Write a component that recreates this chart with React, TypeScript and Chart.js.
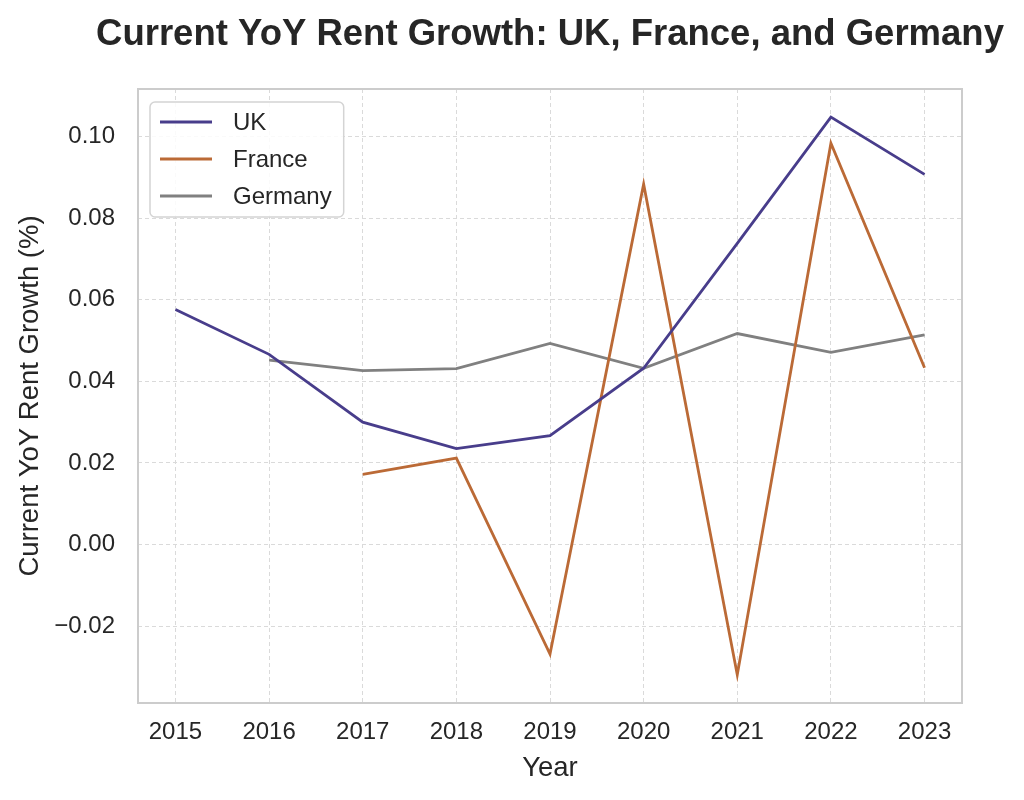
import React, { useEffect, useRef } from "react";
import { Chart, registerables } from "chart.js";

Chart.register(...registerables);

const FONT = "'Liberation Sans', Arial, Helvetica, sans-serif";
const TEXT = "#262626";

const years = [2015, 2016, 2017, 2018, 2019, 2020, 2021, 2022, 2023];
const ukValues = [0.0576, 0.0466, 0.03, 0.0235, 0.0267, 0.0432, 0.0738, 0.1047, 0.0907];
const franceValues = [null, null, 0.0172, 0.0212, -0.0268, 0.0883, -0.0319, 0.0983, 0.0433];
const germanyValues = [null, 0.0452, 0.0426, 0.0431, 0.0493, 0.0432, 0.0517, 0.0471, 0.0514];

const seriesNames = ["UK", "France", "Germany"];
const seriesColors = ["#483d8b", "#bb6a36", "#808080"];
const seriesValues = [ukValues, franceValues, germanyValues];

const yTicks = [-0.02, 0, 0.02, 0.04, 0.06, 0.08, 0.1];
const xMin = 2014.6;
const xMax = 2023.4;
const yMin = -0.0388;
const yMax = 0.1116;

const chartTitle = "Current YoY Rent Growth: UK, France, and Germany";
const xTitle = "Year";
const yTitle = "Current YoY Rent Growth (%)";

const frameAndLegend = {
  id: "frameAndLegend",
  afterDraw(chart: any) {
    const { ctx, chartArea: a } = chart;
    ctx.save();
    // title, centred over the plot area
    ctx.fillStyle = TEXT;
    ctx.font = `bold 36.5px ${FONT}`;
    ctx.textAlign = "center";
    ctx.textBaseline = "alphabetic";
    ctx.fillText(chartTitle, (a.left + a.right) / 2, a.top - 44.5);

    // plot frame
    ctx.strokeStyle = "#cccccc";
    ctx.lineWidth = 2;
    ctx.strokeRect(a.left, a.top, a.right - a.left, a.bottom - a.top);

    // legend
    ctx.font = `24px ${FONT}`;
    const items = chart.data.datasets;
    const textW = Math.max(...items.map((d: any) => ctx.measureText(d.label).width));
    const bx = a.left + 12;
    const by = a.top + 13;
    const bw = 10 + 52 + 21 + textW + 12;
    const bh = 115;
    const r = 5;
    ctx.beginPath();
    ctx.moveTo(bx + r, by);
    ctx.lineTo(bx + bw - r, by);
    ctx.arcTo(bx + bw, by, bx + bw, by + r, r);
    ctx.lineTo(bx + bw, by + bh - r);
    ctx.arcTo(bx + bw, by + bh, bx + bw - r, by + bh, r);
    ctx.lineTo(bx + r, by + bh);
    ctx.arcTo(bx, by + bh, bx, by + bh - r, r);
    ctx.lineTo(bx, by + r);
    ctx.arcTo(bx, by, bx + r, by, r);
    ctx.closePath();
    ctx.fillStyle = "rgba(255,255,255,0.85)";
    ctx.fill();
    ctx.strokeStyle = "#d4d4d4";
    ctx.lineWidth = 1.5;
    ctx.stroke();

    items.forEach((d: any, i: number) => {
      const y = by + 20 + i * 37;
      ctx.beginPath();
      ctx.strokeStyle = d.borderColor;
      ctx.lineWidth = 2.8;
      ctx.moveTo(bx + 10, y);
      ctx.lineTo(bx + 62, y);
      ctx.stroke();
      ctx.fillStyle = TEXT;
      ctx.textAlign = "left";
      ctx.textBaseline = "middle";
      ctx.fillText(d.label, bx + 83, y + 1);
    });
    ctx.restore();
  },
};

function fmtY(v: number) {
  const s = Math.abs(v).toFixed(2);
  return v < -1e-9 ? "\u2212" + s : s;
}

export default function App() {
  const ref = useRef<HTMLCanvasElement | null>(null);

  useEffect(() => {
    if (!ref.current) return;
    const datasets = seriesNames.map((name, i) => ({
      label: name,
      data: years.map((yr, j) => ({ x: yr, y: seriesValues[i][j] })),
      borderColor: seriesColors[i],
      backgroundColor: seriesColors[i],
      borderWidth: 2.8,
      pointRadius: 0,
      pointHoverRadius: 0,
      tension: 0,
      spanGaps: false,
      fill: false,
    }));

    const gridCommon = { color: "#dadada", lineWidth: 1, drawTicks: false };
    const chart = new Chart(ref.current, {
      type: "line",
      data: { datasets },
      plugins: [frameAndLegend],
      options: {
        responsive: false,
        animation: false,
        layout: { padding: { left: 0, right: 62, top: 89, bottom: 0 } },
        plugins: {
          legend: { display: false },
          tooltip: { enabled: false },
          title: { display: false },
        },
        scales: {
          x: {
            type: "linear",
            min: xMin,
            max: xMax,
            afterBuildTicks: (s: any) => {
              s.ticks = years.map((v) => ({ value: v }));
            },
            afterFit: (s: any) => {
              s.height = 97;
            },
            ticks: {
              callback: (v: any) => String(v),
              color: TEXT,
              font: { family: FONT, size: 24 },
              padding: 15,
              maxRotation: 0,
              autoSkip: false,
            },
            grid: gridCommon,
            border: { display: false, dash: [4, 3] },
            title: {
              display: true,
              text: xTitle,
              color: TEXT,
              font: { family: FONT, size: 27.5 },
              padding: { top: 0, bottom: 15 },
            },
          },
          y: {
            type: "linear",
            min: yMin,
            max: yMax,
            afterBuildTicks: (s: any) => {
              s.ticks = yTicks.map((v) => ({ value: v }));
            },
            afterFit: (s: any) => {
              s.width = 138;
            },
            ticks: {
              callback: (v: any) => fmtY(Number(v)),
              color: TEXT,
              font: { family: FONT, size: 24 },
              padding: 23,
              autoSkip: false,
            },
            grid: gridCommon,
            border: { display: false, dash: [4, 3] },
            title: {
              display: true,
              text: yTitle,
              color: TEXT,
              font: { family: FONT, size: 27.5 },
              padding: { top: 14, bottom: 0 },
            },
          },
        },
      } as any,
    });
    return () => chart.destroy();
  }, []);

  return (
    <div style={{ position: "absolute", left: 0, top: 0, width: 1024, height: 800, background: "#fff" }}>
      <canvas ref={ref} width={1024} height={800} style={{ display: "block" }} />
    </div>
  );
}
